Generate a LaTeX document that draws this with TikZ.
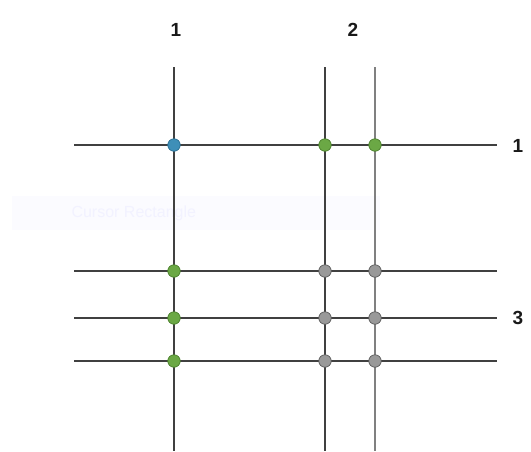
\documentclass[tikz,border=0pt]{standalone}
\usepackage{fontspec}
\setmainfont{Liberation Sans}
\definecolor{dotblue}{HTML}{3E8FB8}
\definecolor{dotblueb}{HTML}{2B6F92}
\definecolor{dotgreen}{HTML}{6BA845}
\definecolor{dotgreenb}{HTML}{4A7F2C}
\begin{document}
\begin{tikzpicture}[x=1pt,y=-1pt,
  gline/.style={line width=1.8pt,draw=black!75},
  lline/.style={line width=1.8pt,draw=black!50},
  dot/.style={circle,minimum size=12.5pt,inner sep=0pt,line width=0.7pt},
  bluedot/.style={dot,fill=dotblue,draw=dotblueb},
  greendot/.style={dot,fill=dotgreen,draw=dotgreenb},
  graydot/.style={dot,fill=black!40,draw=black!65},
  lab/.style={font=\bfseries\fontsize{19}{19}\selectfont,text=black!90}]
\useasboundingbox (0,0) rectangle (531,451);
% faint watermark band
\fill[blue!1.5] (12,196) rectangle (380,230);
\node[anchor=west,text=blue!5,font=\fontsize{16}{16}\selectfont] (wm) at (68,213) {Cursor Rectangle};
% coordinates
\coordinate (v1t) at (174,67); \coordinate (v1b) at (174,451);
\coordinate (v2t) at (325,67); \coordinate (v2b) at (325,451);
\coordinate (v3t) at (375,67); \coordinate (v3b) at (375,451);
\coordinate (h1l) at (74,145); \coordinate (h1r) at (497,145);
\coordinate (h2l) at (74,271); \coordinate (h2r) at (497,271);
\coordinate (h3l) at (74,318); \coordinate (h3r) at (497,318);
\coordinate (h4l) at (74,361); \coordinate (h4r) at (497,361);
% lines
\draw[gline] (h1l) -- (h1r);
\draw[gline] (h2l) -- (h2r);
\draw[gline] (h3l) -- (h3r);
\draw[gline] (h4l) -- (h4r);
\draw[gline] (v1t) -- (v1b);
\draw[gline] (v2t) -- (v2b);
\draw[lline] (v3t) -- (v3b);
% dots
\node[bluedot] (a11) at (174,145) {};
\node[greendot] (a12) at (325,145) {};
\node[greendot] (a13) at (375,145) {};
\node[greendot] (a21) at (174,271) {};
\node[graydot] (a22) at (325,271) {};
\node[graydot] (a23) at (375,271) {};
\node[greendot] (a31) at (174,318) {};
\node[graydot] (a32) at (325,318) {};
\node[graydot] (a33) at (375,318) {};
\node[greendot] (a41) at (174,361) {};
\node[graydot] (a42) at (325,361) {};
\node[graydot] (a43) at (375,361) {};
% labels
\node[lab] (c1) at (176,30) {1};
\node[lab] (c2) at (353,30) {2};
\node[lab] (r1) at (518,146) {1};
\node[lab] (r3) at (518,318) {3};
\end{tikzpicture}
\end{document}
